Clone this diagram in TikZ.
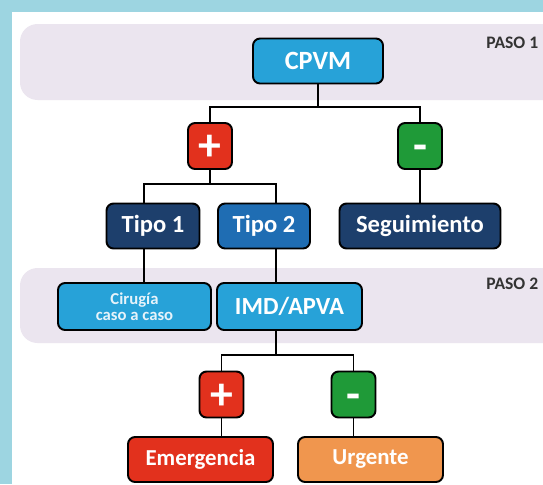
\documentclass[tikz,border=0pt]{standalone}
\usepackage{fontspec}
\setmainfont{Carlito}
\definecolor{marco}{HTML}{9DD5E1}
\definecolor{franja}{HTML}{EBE5EF}
\definecolor{celeste}{HTML}{27A2D8}
\definecolor{marino}{HTML}{1D3F6C}
\definecolor{azul}{HTML}{1F6DB3}
\definecolor{rojo}{HTML}{E2311D}
\definecolor{verde}{HTML}{1F9A38}
\definecolor{naranja}{HTML}{F0964E}
\definecolor{texto}{HTML}{333333}
\definecolor{claro}{HTML}{E6F3FA}

\begin{document}
\begin{tikzpicture}[x=0.02cm, y=-0.02cm,
  caja/.style={draw=black, line width=1.1pt, rounded corners=4pt, text=white,
    font=\bfseries\fontsize{14}{16}\selectfont, minimum height=0.9cm, inner sep=0pt},
  signo/.style={caja, minimum width=0.88cm, minimum height=0.92cm,
    font=\bfseries\fontsize{26}{26}\selectfont},
  linea/.style={line width=1.1pt},
  paso/.style={font=\bfseries\fontsize{10}{12}\selectfont, text=texto, anchor=west, inner sep=0pt}]
\useasboundingbox (0,0) rectangle (543,484);

% Frame and bands
\fill[marco] (0,0) rectangle (543,484);
\fill[white] (12,12) rectangle (560,500);
\fill[franja, rounded corners=10pt] (20,24) rectangle (580,100);
\fill[franja, rounded corners=10pt] (20,268) rectangle (580,343);
\node[paso] (paso1) at (486,42.5) {PASO 1};
\node[paso] (paso2) at (486,284) {PASO 2};

% Paso 1
\node[caja, fill=celeste, minimum width=2.6cm, font=\bfseries\fontsize{15}{18}\selectfont] (cpvm) at (318,61) {CPVM};
\node[signo, fill=rojo] (mas) at (210,146) {\smash{\raisebox{-8.5pt}{+}}};
\node[signo, fill=verde] (menos) at (420,146) {\smash{\raisebox{-8.5pt}{-}}};
\node[caja, fill=marino, minimum width=1.86cm] (tipo1) at (153,226) {Tipo 1};
\node[caja, fill=azul, minimum width=1.84cm] (tipo2) at (264,226) {Tipo 2};
\node[caja, fill=marino, minimum width=3.22cm] (segui) at (420,226) {Seguimiento};

% Paso 2
\node[caja, fill=celeste, minimum width=3.06cm, minimum height=0.94cm, align=center, text=claro,
  font=\bfseries\fontsize{9.5}{9}\selectfont] (cirugia) at (134.5,306.5) {Cirugía\\caso a caso};
\node[caja, fill=celeste, minimum width=2.9cm, minimum height=0.94cm] (imd) at (289.5,306.5) {IMD/APVA};
\node[signo, fill=rojo] (mas2) at (221.5,394.5) {\smash{\raisebox{-8.5pt}{+}}};
\node[signo, fill=verde] (menos2) at (353.5,394.5) {\smash{\raisebox{-8.5pt}{-}}};
\node[caja, fill=rojo, minimum width=2.9cm, font=\bfseries\fontsize{13}{16}\selectfont] (emerg) at (200.5,459.5) {Emergencia};
\node[caja, fill=naranja, minimum width=2.9cm, font=\bfseries\fontsize{13}{16}\selectfont] (urgente) at (370.5,459.5) {Urgente};

% Connectors
\coordinate (bus1) at (318,107);
\coordinate (bus2) at (210,184);
\coordinate (bus3) at (276,355);
\coordinate (t1) at ([xshift=-0.18cm]tipo1.north);
\coordinate (t2) at ([xshift=0.24cm]tipo2.north);
\draw[linea] (cpvm.south) -- (bus1);
\draw[linea] (mas.north) |- (bus1) -| (menos.north);
\draw[linea] (menos.south) -- (menos.south |- segui.north);
\draw[linea] (mas.south) -- (bus2);
\draw[linea] (t1) |- (bus2) -| (t2);
\draw[linea] (t1 |- tipo1.south) -- (t1 |- cirugia.north);
\draw[linea] (t2 |- tipo2.south) -- (t2 |- imd.north);
\draw[linea] (t2 |- imd.south) -- (bus3);
\draw[linea] (mas2.north) |- (bus3) -| (menos2.north);
\draw[linea] (mas2.south) -- (mas2.south |- emerg.north);
\draw[linea] (menos2.south) -- (menos2.south |- urgente.north);
\end{tikzpicture}
\end{document}
